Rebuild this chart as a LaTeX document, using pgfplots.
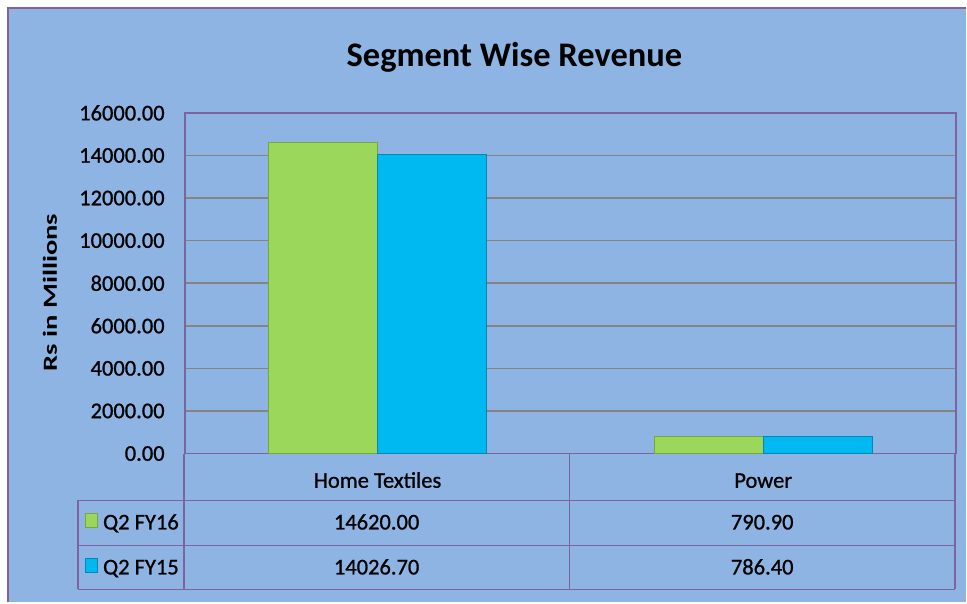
\documentclass[border=0pt]{standalone}
\usepackage{pgfplots}
\pgfplotsset{compat=1.18}
\usepackage{fontspec}
\setmainfont{Carlito}
\newfontfamily\heavy{Carlito}[FakeBold=0.9]
\usepackage{graphicx}
\definecolor{bg}{HTML}{8DB4E2}
\definecolor{frame}{HTML}{7F63A1}
\definecolor{grn}{HTML}{9BD75A}
\definecolor{grnd}{HTML}{76A83A}
\definecolor{cyn}{HTML}{00B9F1}
\definecolor{cynd}{HTML}{0A85B0}
\definecolor{gridc}{HTML}{848484}
\newcommand{\tbl}{\heavy\fontsize{22.5bp}{27bp}\selectfont}
\begin{document}
\begin{tikzpicture}[x=1bp,y=1bp]
\fill[white] (0,0) rectangle (967,-603);
\fill[bg] (8,-8) rectangle (967,-603);
\draw[frame, line width=2bp] (8,-603) -- (8,-8) -- (967,-8);
\begin{axis}[
  at={(185bp,-454bp)}, anchor=south west,
  scale only axis, width=772bp, height=341bp,
  xmin=-0.5, xmax=1.5, ymin=0, ymax=16000,
  ybar=0pt, bar width=109bp,
  xtick={0,1}, xticklabels={Home Textiles, Power},
  xtick style={draw=none},
  xticklabel style={font=\tbl, anchor=base, yshift=-30bp, inner sep=0pt},
  ytick={0,2000,...,16000},
  ytick style={draw=none},
  scaled y ticks=false,
  yticklabel style={font=\tbl, anchor=east, inner sep=0pt, xshift=-20bp,
    /pgf/number format/fixed, /pgf/number format/fixed zerofill,
    /pgf/number format/precision=2, /pgf/number format/1000 sep={},
    /pgf/number format/assume math mode=true},
  ymajorgrids, grid style={gridc, line width=1.5bp},
  axis line style={frame, line width=1.5bp},
  axis background/.style={fill=bg},
]
\addplot[fill=grn, draw=grnd, line width=1.2bp] coordinates {(0,14620) (1,790.9)};
\addplot[fill=cyn, draw=cynd, line width=1.2bp] coordinates {(0,14026.7) (1,786.4)};
\end{axis}
\begin{scope}[frame, line width=1.5bp]
\draw (184,-454) -- (184,-590);
\draw (78,-501) -- (956,-501);
\draw (78,-546) -- (956,-546);
\draw (78,-590) -- (956,-590);
\draw (78,-501) -- (78,-590);
\draw (570,-454) -- (570,-590);
\draw (956,-454) -- (956,-590);
\end{scope}
\fill[grn, draw=grnd, line width=0.8bp] (85,-514) rectangle (97,-528);
\fill[cyn, draw=cynd, line width=0.8bp] (85,-559) rectangle (97,-573);
\node[anchor=base west, inner sep=0pt, font=\tbl] at (103,-530) {Q2 FY16};
\node[anchor=base west, inner sep=0pt, font=\tbl] at (103,-575) {Q2 FY15};
\node[anchor=base, inner sep=0pt, font=\tbl] at (377,-530) {14620.00};
\node[anchor=base, inner sep=0pt, font=\tbl] at (763,-530) {790.90};
\node[anchor=base, inner sep=0pt, font=\tbl] at (377,-575) {14026.70};
\node[anchor=base, inner sep=0pt, font=\tbl] at (763,-575) {786.40};
\node[anchor=base, inner sep=0pt, font=\bfseries\fontsize{34.5bp}{40bp}\selectfont] at (515,-67) {Segment Wise Revenue};
\node[rotate=90, inner sep=0pt] at (50,-293) {\scalebox{1.43}[1]{\bfseries\fontsize{20bp}{24bp}\selectfont Rs in Millions}};
\end{tikzpicture}
\end{document}
